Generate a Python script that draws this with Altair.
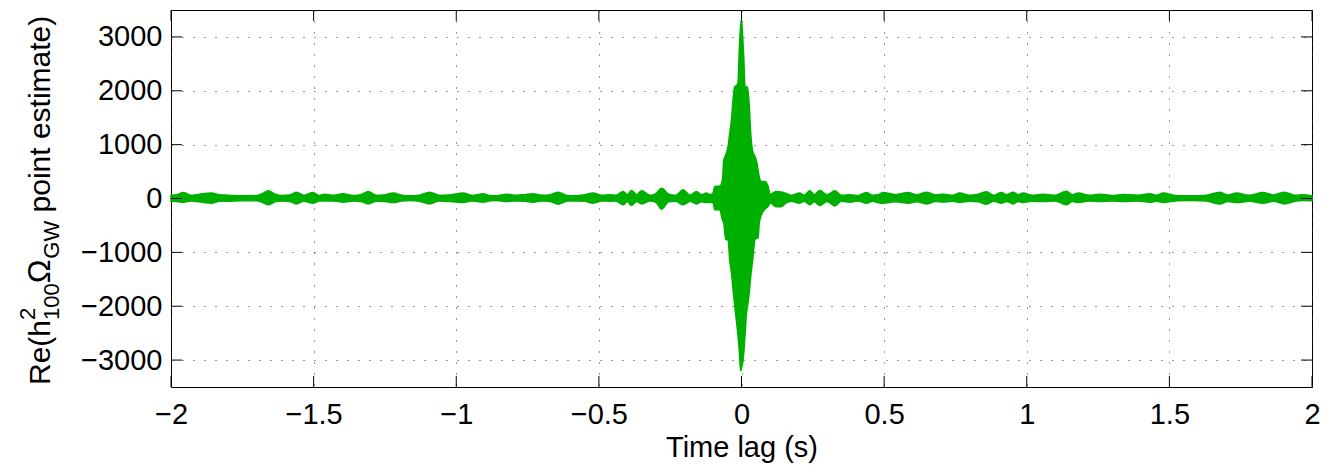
import altair as alt
import pandas as pd

# ---------------- data (envelope of the dense trace) ----------------
time_s = [
    -2.000, -1.980, -1.957, -1.930, -1.900, -1.858, -1.830, -1.800, -1.758, -1.700,
    -1.680, -1.659, -1.635, -1.610, -1.580, -1.560, -1.535, -1.502, -1.480, -1.461,
    -1.430, -1.396, -1.360, -1.330, -1.309, -1.280, -1.250, -1.221, -1.190, -1.163,
    -1.130, -1.093, -1.060, -1.020, -0.976, -0.945, -0.906, -0.880, -0.859, -0.824,
    -0.790, -0.760, -0.730, -0.700, -0.670, -0.643, -0.610, -0.578, -0.550, -0.520,
    -0.490, -0.460, -0.440, -0.415, -0.400, -0.386, -0.368, -0.350, -0.320, -0.300,
    -0.280, -0.255, -0.230, -0.205, -0.180, -0.158, -0.140, -0.123, -0.110, -0.0995,
    -0.0936, -0.076, -0.0666, -0.062, -0.055, -0.047, -0.041, -0.035, -0.0294, -0.0235,
    -0.017, -0.012, -0.008, -0.003, 0.0, 0.004, 0.008, 0.012, 0.0175, 0.021,
    0.027, 0.032, 0.039, 0.047, 0.052, 0.058, 0.062, 0.070, 0.082, 0.093,
    0.101, 0.120, 0.140, 0.157, 0.175, 0.204, 0.220, 0.239, 0.256, 0.274,
    0.300, 0.327, 0.350, 0.380, 0.410, 0.437, 0.460, 0.479, 0.496, 0.540,
    0.584, 0.615, 0.648, 0.680, 0.707, 0.740, 0.765, 0.800, 0.830, 0.859,
    0.885, 0.911, 0.930, 0.952, 0.970, 0.987, 1.020, 1.057, 1.100, 1.139,
    1.160, 1.180, 1.220, 1.256, 1.300, 1.338, 1.390, 1.431, 1.455, 1.478,
    1.530, 1.583, 1.630, 1.676, 1.705, 1.735, 1.780, 1.828, 1.865, 1.904,
    1.940, 1.968, 2.000,
]
upper = [
    60, 70, 110, 60, 80, 99, 70, 60, 50, 55,
    90, 142, 80, 55, 70, 117, 60, 111, 55, 80,
    60, 86, 55, 80, 130, 60, 70, 99, 60, 49,
    60, 117, 60, 70, 99, 55, 86, 50, 49, 80,
    60, 70, 86, 60, 70, 117, 55, 50, 70, 99,
    60, 70, 60, 130, 70, 148, 70, 142, 60, 90,
    191, 80, 60, 160, 60, 130, 70, 99, 70, 100,
    220, 230, 345, 715, 810, 965, 1215, 1460, 1830, 2075,
    2100, 2150, 2700, 3200, 3320, 3000, 2600, 2090, 2070, 2070,
    1720, 1215, 880, 780, 700, 530, 400, 315, 315, 225,
    70, 130, 120, 90, 60, 99, 60, 142, 70, 148,
    70, 142, 60, 68, 55, 111, 60, 68, 111, 70,
    111, 70, 117, 70, 80, 60, 99, 60, 80, 123,
    60, 111, 70, 117, 70, 99, 60, 80, 60, 136,
    70, 99, 60, 80, 55, 74, 60, 86, 60, 99,
    50, 49, 60, 117, 65, 99, 60, 111, 65, 117,
    60, 68, 50,
]
lower = [
    -50, -55, -70, -45, -60, -86, -50, -50, -40, -40,
    -70, -117, -60, -45, -60, -99, -50, -86, -45, -45,
    -45, -68, -45, -60, -99, -50, -55, -74, -45, -37,
    -50, -99, -45, -55, -74, -45, -68, -40, -37, -56,
    -45, -50, -68, -45, -55, -105, -45, -45, -50, -86,
    -45, -50, -45, -117, -55, -130, -55, -99, -45, -70,
    -197, -60, -50, -117, -50, -99, -60, -74, -70, -80,
    -210, -210, -400, -456, -765, -765, -1150, -1383, -1690, -2000,
    -2300, -2550, -2800, -3200, -3150, -3050, -2850, -2550, -2120, -2000,
    -1750, -1450, -1150, -765, -740, -735, -456, -300, -200, -148,
    -80, -150, -150, -80, -50, -86, -50, -117, -60, -130,
    -55, -136, -50, -68, -45, -86, -50, -74, -86, -60,
    -86, -60, -99, -55, -65, -50, -74, -50, -60, -105,
    -50, -86, -55, -99, -55, -74, -50, -56, -45, -117,
    -55, -74, -45, -56, -45, -56, -45, -68, -50, -74,
    -40, -37, -45, -99, -55, -74, -50, -86, -50, -99,
    -50, -37, -40,
]
assert len(time_s) == len(upper) == len(lower)

x_ticks = [-2, -1.5, -1, -0.5, 0, 0.5, 1, 1.5, 2]
y_ticks = [-3000, -2000, -1000, 0, 1000, 2000, 3000]
x_title = "Time lag (s)"
y_title_parts = ["Re(h", "2", "100", "Ω", "GW", "point estimate)"]

# ---------------- styling ----------------
W, H = 1141, 377
FONT = "Liberation Sans"
FS = 29
GREEN = "#00b000"
TICK_LEN = 11

df = pd.DataFrame({"t": time_s, "hi": upper, "lo": lower})
xt = pd.DataFrame({"t": x_ticks})
yt = pd.DataFrame({"hi": y_ticks})

xs = alt.Scale(domain=[-2, 2], nice=False, zero=False)
ys = alt.Scale(domain=[-3500, 3500], nice=False, zero=False)

common_axis = dict(
    grid=True, gridDash=[1, 10], gridColor="#333333", gridWidth=1, gridOpacity=1,
    ticks=False, tickSize=0, domain=False,
    labelFont=FONT, labelFontSize=FS, labelColor="black",
    labelFlush=False, labelOverlap=False,
)
x_axis = alt.Axis(values=x_ticks, format="~g", labelPadding=13,
                  title=x_title, titleFont=FONT, titleFontSize=FS,
                  titleFontWeight="normal", titleColor="black", titlePadding=4,
                  **common_axis)
y_axis = alt.Axis(values=y_ticks, format="d", labelPadding=9, title=None,
                  **common_axis)

X_ENC = alt.X("t:Q", scale=xs, axis=x_axis)
Y_ENC = alt.Y("hi:Q", scale=ys, axis=y_axis)

band = alt.Chart(df).mark_area(
    color=GREEN, stroke=GREEN, strokeWidth=1.6, interpolate="monotone", opacity=1
).encode(x=X_ENC, y=Y_ENC, y2="lo:Q")

rule_style = dict(color="black", strokeWidth=1)
tick_bottom = alt.Chart(xt).mark_rule(**rule_style).encode(
    x=X_ENC, y=alt.value(H), y2=alt.value(H - TICK_LEN))
tick_top = alt.Chart(xt).mark_rule(**rule_style).encode(
    x=X_ENC, y=alt.value(0), y2=alt.value(TICK_LEN))
tick_left = alt.Chart(yt).mark_rule(**rule_style).encode(
    y=Y_ENC, x=alt.value(0), x2=alt.value(TICK_LEN))
tick_right = alt.Chart(yt).mark_rule(**rule_style).encode(
    y=Y_ENC, x=alt.value(W), x2=alt.value(W - TICK_LEN))

# ---------------- composite rotated y title (with super/subscripts) ----------------
ARIAL = {"R": 0.722, "e": 0.556, "(": 0.333, "h": 0.556, "2": 0.556, "1": 0.556,
         "0": 0.556, "Ω": 0.768, "G": 0.778, "W": 0.944, " ": 0.278, "p": 0.556,
         "o": 0.556, "i": 0.222, "n": 0.556, "t": 0.278, "s": 0.5, "m": 0.833,
         "a": 0.556, ")": 0.333}


def text_w(txt, size):
    return sum(ARIAL.get(c, 0.556) for c in txt) * size


F_MAIN, F_SMALL, F_OMEGA = 30, 22, 32
BASE_X = -121   # baseline of main text (relative to plot left)
SUP_X = -136
SUB_X = -112
y_cursor = H - 2

pieces = []
pieces.append((y_title_parts[0], F_MAIN, BASE_X, y_cursor))
y_cursor -= text_w(y_title_parts[0], F_MAIN)
pieces.append((y_title_parts[1], F_SMALL, SUP_X, y_cursor))
pieces.append((y_title_parts[2], F_SMALL, SUB_X, y_cursor))
y_cursor -= text_w(y_title_parts[2], F_SMALL)
pieces.append((y_title_parts[3], F_OMEGA, BASE_X, y_cursor))
y_cursor -= text_w(y_title_parts[3], F_OMEGA)
pieces.append((y_title_parts[4], F_SMALL, SUB_X, y_cursor))
y_cursor -= text_w(y_title_parts[4], F_SMALL) + text_w(" ", F_MAIN)
pieces.append((y_title_parts[5], F_MAIN, BASE_X, y_cursor))

one = pd.DataFrame({"k": [0]})
title_layers = []
for txt, size, px, py in pieces:
    title_layers.append(
        alt.Chart(one).mark_text(
            text=txt, font=FONT, fontSize=size, angle=270, align="left",
            baseline="alphabetic", color="black",
        ).encode(x=alt.value(px), y=alt.value(py))
    )

chart = alt.layer(band, tick_bottom, tick_top, tick_left, tick_right, *title_layers).properties(
    width=W, height=H,
    background="white",
    autosize=alt.AutoSizeParams(type="none"),
    padding={"left": 163, "top": 2, "right": 11, "bottom": 78},
).configure_view(stroke="black", strokeWidth=1)

chart.save("out.html", embed_options={"renderer": "svg", "actions": False})
